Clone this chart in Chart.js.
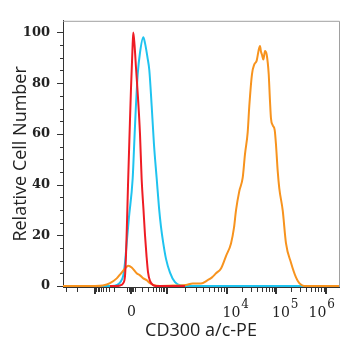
<!DOCTYPE html>
<html><head><meta charset="utf-8">
<script src="https://cdn.jsdelivr.net/npm/chart.js@4/dist/chart.umd.min.js"></script>
<style>html,body{margin:0;padding:0;background:#fff;}canvas{display:block;}</style>
</head><body>
<canvas id="c" width="352" height="350"></canvas>
<script>
// ---- data (fluorescence intensity vs relative cell number) ----
const redX = [-279, -160, -105, -72, -52, -43, -34, -25, -12, 0, 12, 19, 30, 43, 62, 82, 101, 124, 145, 168, 194, 233, 304, 395, 2000];
const redY = [0, 0, 0.2, 1, 4, 12, 25, 40, 60, 78, 93, 100, 95, 86, 74, 60, 42, 30, 20, 12, 5.5, 2, 0.4, 0, 0];

const cyanX = [-657, -233, -145, -93, -69, -52, -37, -17, 14, 25, 38, 59, 82, 121, 145, 185, 219, 271, 332, 419, 510, 604, 733, 920, 1122, 1359, 1711, 2415, 1831000];
const cyanY = [0, 0, 0.4, 1.9, 4.2, 9.2, 16.8, 27.1, 42.4, 53.8, 67.2, 83.6, 92, 98.1, 95.8, 90.1, 85.1, 71, 55.7, 42.4, 30.9, 23.3, 16.8, 10.7, 5.3, 1.5, 0.2, 0, 0];

const orangeX = [-3415, -1000, -510, -279, -149, -93, -52, -23, 6, 49, 82, 121, 171, 233, 313, 555, 1413, 2073, 2680, 3684, 4768, 5623, 6561, 7943, 9624, 12050, 13850, 15200, 17720, 20760, 23100, 26200, 28220, 32000, 35610, 39810, 43700, 46420, 48630, 50940, 54140, 58570, 63400, 69570, 73910, 77430, 83810, 91970, 97700, 105700, 113900, 133500, 155600, 196300, 247700, 288800, 359400, 1831000];
const orangeY = [0, 0, 0.2, 1.1, 3, 5, 6.9, 8, 7.3, 5, 4.2, 3, 2.3, 1.1, 0.4, 0, 0.2, 0.4, 1, 1, 2.3, 3.4, 5, 6.9, 11.8, 16.8, 23, 29.8, 37.4, 42.7, 52, 60.7, 71, 83.6, 87.4, 88.9, 93.1, 94.7, 92.4, 91.2, 89.3, 92.7, 91.2, 83.6, 72.9, 66, 63.4, 61.5, 55.7, 45.4, 38.5, 29.8, 16.8, 9.2, 3.4, 1.1, 0, 0];

// ---- axes ----
const xMin = -3415, xMax = 1831000;
const xLabelValues = [0, 10000, 100000, 1000000];
const xLabelBase = ['0', '10', '10', '10'];
const xLabelExp = ['', '4', '5', '6'];
const xMajorTicks = [-1000, 0, 1000, 10000, 100000, 1000000];
const xMinorTicks = [-3000, -2000, -900, -800, -700, -600, -500, -400, -300, -200, -30, -20, -10, 10, 20, 30,
  100, 200, 300, 400, 500, 600, 700, 800, 900,
  2000, 3000, 4000, 5000, 6000, 7000, 8000, 9000,
  20000, 30000, 40000, 50000, 60000, 70000, 80000, 90000,
  200000, 300000, 400000, 500000, 600000, 700000, 800000, 900000];
const yMin = -0.4, yMax = 104.6;
const yLabelValues = [0, 20, 40, 60, 80, 100];
const yMinorTicks = [5, 10, 15, 25, 30, 35, 45, 50, 55, 65, 70, 75, 85, 90, 95];

// biexponential-style display transform for the x scale
function fwd(v) {
  const a = Math.abs(v), s = Math.sign(v);
  let d;
  if (a <= 1000) d = 36 * Math.asinh(a / 100) / Math.asinh(10);
  else if (a <= 10000) d = 36 + 60 * Math.log10(a / 1000);
  else d = 96 + 49.5 * Math.log10(a / 10000);
  return s * d;
}
function inv(d) {
  const a = Math.abs(d), s = Math.sign(d);
  let v;
  if (a <= 36) v = 100 * Math.sinh(a * Math.asinh(10) / 36);
  else if (a <= 96) v = 1000 * Math.pow(10, (a - 36) / 60);
  else v = 10000 * Math.pow(10, (a - 96) / 49.5);
  return s * v;
}

class LogicleScale extends Chart.LinearScale {
  getPixelForValue(value) {
    const t0 = fwd(this.min), t1 = fwd(this.max);
    return this.getPixelForDecimal((fwd(value) - t0) / (t1 - t0));
  }
  getValueForPixel(pixel) {
    const t0 = fwd(this.min), t1 = fwd(this.max);
    return inv(t0 + this.getDecimalForPixel(pixel) * (t1 - t0));
  }
}
LogicleScale.id = 'logicle';
LogicleScale.defaults = {};
Chart.register(LogicleScale);

const tickPlugin = {
  id: 'tickMarks',
  afterDraw(chart) {
    const ctx = chart.ctx, a = chart.chartArea;
    const xs = chart.scales.x, ys = chart.scales.y;
    ctx.save();
    // top and right frame
    ctx.strokeStyle = '#a0a0a0';
    ctx.lineWidth = 1;
    ctx.beginPath();
    ctx.moveTo(a.left, a.top + 0.5); ctx.lineTo(a.right + 0.5, a.top + 0.5);
    ctx.lineTo(a.right + 0.5, a.bottom);
    ctx.stroke();
    // y ticks
    ctx.strokeStyle = '#333';
    ctx.beginPath();
    yLabelValues.forEach(v => { const p = Math.round(ys.getPixelForValue(v)) + 0.5; ctx.moveTo(a.left - 6, p); ctx.lineTo(a.left, p); });
    yMinorTicks.forEach(v => { const p = Math.round(ys.getPixelForValue(v)) + 0.5; ctx.moveTo(a.left - 3, p); ctx.lineTo(a.left, p); });
    ctx.stroke();
    // x ticks
    ctx.beginPath();
    xMinorTicks.forEach(v => { const p = Math.round(xs.getPixelForValue(v)) + 0.5; ctx.moveTo(p, a.bottom); ctx.lineTo(p, a.bottom + 5); });
    ctx.stroke();
    ctx.lineWidth = 2;
    ctx.beginPath();
    xMajorTicks.forEach(v => { const p = Math.round(xs.getPixelForValue(v)); ctx.moveTo(p, a.bottom); ctx.lineTo(p, a.bottom + 7); });
    ctx.stroke();
    // x tick labels (power-of-ten notation)
    ctx.fillStyle = '#222';
    ctx.textBaseline = 'alphabetic';
    xLabelValues.forEach((v, i) => {
      const p = xs.getPixelForValue(v);
      ctx.font = '14px "DejaVu Serif"';
      const wb = ctx.measureText(xLabelBase[i]).width;
      if (!xLabelExp[i]) {
        ctx.textAlign = 'center';
        ctx.fillText(xLabelBase[i], p + 0.5, 316);
        return;
      }
      ctx.font = '12px "DejaVu Serif"';
      const we = ctx.measureText(xLabelExp[i]).width;
      const left = Math.min(p - 4.5, a.right - 4 - wb - we - 1);
      ctx.textAlign = 'left';
      ctx.font = '14px "DejaVu Serif"';
      ctx.fillText(xLabelBase[i], left, 317);
      ctx.font = '12px "DejaVu Serif"';
      ctx.fillText(xLabelExp[i], left + wb + 1, 308);
    });
    ctx.restore();
  }
};

const toPts = (xs, ys) => xs.map((x, i) => ({ x: x, y: ys[i] }));
const lineStyle = { borderWidth: 2, pointRadius: 0, fill: false, cubicInterpolationMode: 'monotone' };

new Chart(document.getElementById('c'), {
  type: 'line',
  data: {
    datasets: [
      Object.assign({ label: 'Isotype', data: toPts(redX, redY), borderColor: '#ee1c24' }, lineStyle),
      Object.assign({ label: 'CD300 a/c-PE', data: toPts(orangeX, orangeY), borderColor: '#f7931e' }, lineStyle),
      Object.assign({ label: 'Unstained', data: toPts(cyanX, cyanY), borderColor: '#1fc3ef' }, lineStyle)
    ]
  },
  options: {
    responsive: false,
    animation: false,
    devicePixelRatio: 1,
    layout: { autoPadding: false, padding: { top: 12, right: 13, left: 0, bottom: 0 } },
    plugins: { legend: { display: false }, tooltip: { enabled: false } },
    scales: {
      x: {
        type: 'logicle',
        min: xMin, max: xMax,
        grid: { display: false, drawTicks: false },
        border: { display: true, color: '#333', width: 1 },
        afterBuildTicks: s => { s.ticks = xLabelValues.map(v => ({ value: v })); },
        afterFit: s => { s.height = 63; },
        ticks: { display: false },
        title: { display: true, text: 'CD300 a/c-PE', color: '#222', font: { family: 'Open Sans', size: 18 }, padding: { top: 0, bottom: 8 } }
      },
      y: {
        type: 'linear',
        min: yMin, max: yMax,
        grid: { display: false, drawTicks: false },
        border: { display: true, color: '#333', width: 1 },
        afterBuildTicks: s => { s.ticks = yLabelValues.map(v => ({ value: v })); },
        afterFit: s => { s.width = 63; },
        ticks: { padding: 13, color: '#222', font: { family: 'DejaVu Serif', size: 13, weight: 'bold' } },
        title: { display: true, text: 'Relative Cell Number', color: '#222', font: { family: 'Open Sans', size: 18 }, padding: { top: 10, bottom: 0 } }
      }
    }
  },
  plugins: [tickPlugin]
});
</script>
</body></html>
